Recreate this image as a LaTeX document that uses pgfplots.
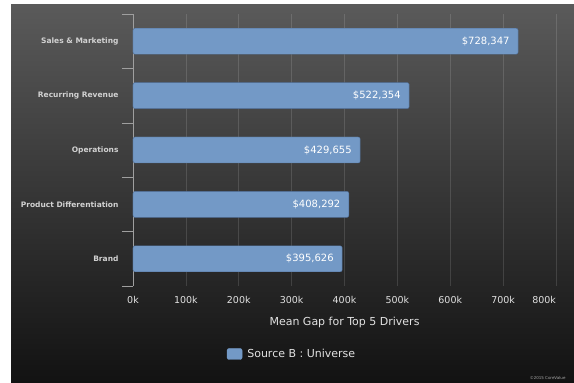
\documentclass[border=0pt]{standalone}
\usepackage{pgfplots}
\pgfplotsset{compat=1.18}
\usepackage{fontspec}
\setmainfont{DejaVu Sans}
\definecolor{barblue}{RGB}{115,153,198}
\definecolor{bardark}{RGB}{80,110,150}
\definecolor{bgtop}{RGB}{90,90,90}
\definecolor{bgbot}{RGB}{18,18,18}
\definecolor{txt}{RGB}{225,225,225}
\begin{document}
\begin{tikzpicture}
\fill[white] (0pt,0pt) rectangle (574pt,383pt);
\shade[top color=bgtop, bottom color=bgbot] (11pt,0pt) rectangle (574pt,378pt);
\node[anchor=east, font=\fontsize{4}{5}\selectfont, text=gray!70] at (569pt,5pt) {©2015 CoreValue};
\begin{axis}[
  at={(133pt,97pt)}, anchor=south west,
  scale only axis, width=423pt, height=272pt,
  xbar, bar width=26pt,
  xmin=0, xmax=800000, ymin=-0.5, ymax=4.5,
  axis x line*=bottom, axis y line*=left,
  x axis line style={draw=none},
  y axis line style={draw=gray!75, line width=0.6pt},
  scaled x ticks=false,
  xtick={0,100000,200000,300000,400000,500000,600000,700000,800000},
  xticklabels={0k,100k,200k,300k,400k,500k,600k,700k,\makebox[0pt][r]{800k}},
  xticklabel style={font=\fontsize{9.5}{11}\selectfont, text=txt, yshift=4pt},
  x tick style={draw=none},
  xmajorgrids, grid style={draw=white, opacity=0.13, line width=0.5pt},
  ytick={-0.5,0.5,1.5,2.5,3.5,4.5},
  yticklabels={},
  tick align=outside,
  y tick style={draw=gray!75, line width=0.6pt},
  ymajorgrids=false,
  major tick length=11pt,
  extra y ticks={0,1,2,3,4},
  extra y tick labels={Brand,Product Differentiation,Operations,Recurring Revenue,Sales \& Marketing},
  extra y tick style={major tick length=0pt, tick style={draw=none}, grid=none,
    yticklabel style={font=\bfseries\fontsize{7.5}{9}\selectfont, text=gray!35, xshift=-11pt}},
  xlabel={Mean Gap for Top 5 Drivers},
  xlabel style={font=\fontsize{11}{13}\selectfont, text=txt, yshift=-6pt},
  point meta=explicit symbolic,
  nodes near coords,
  every node near coord/.append style={anchor=east, xshift=-5pt, font=\fontsize{10}{12}\selectfont, text=white},
  legend style={at={(0.376,-0.25)}, anchor=center, draw=none, fill=none, text=txt, font=\fontsize{11}{13}\selectfont},
  legend image code/.code={\fill[barblue] (0pt,-5.5pt) rectangle (15pt,5.5pt);},
  legend cell align=left,
  legend style={nodes={inner sep=2pt}, /tikz/every even column/.append style={column sep=0pt}},
]
\addplot[fill=barblue, draw=bardark, line width=0.4pt, rounded corners=2pt] coordinates {
  (395626,0) [{\$395,626}]
  (408292,1) [{\$408,292}]
  (429655,2) [{\$429,655}]
  (522354,3) [{\$522,354}]
  (728347,4) [{\$728,347}]
};
\addlegendentry{\hspace{3pt}Source B : Universe}
\end{axis}
\end{tikzpicture}
\end{document}
